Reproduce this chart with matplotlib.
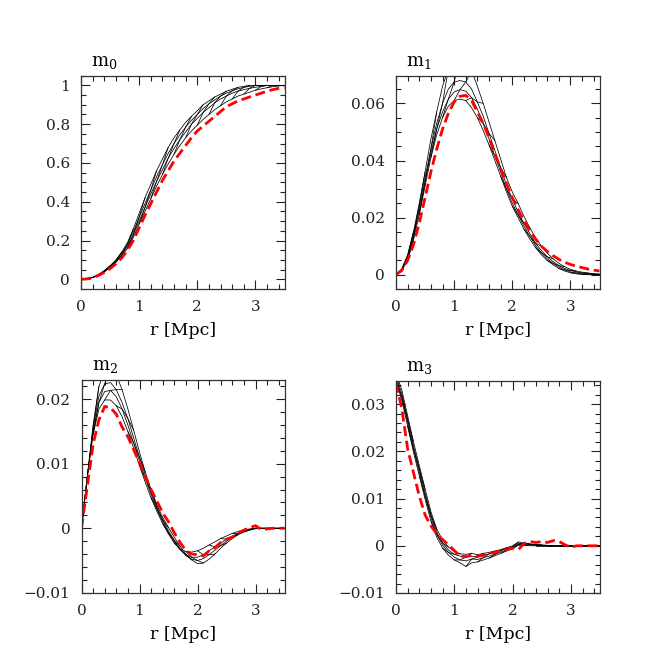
import numpy as np
import matplotlib
matplotlib.use("Agg")
import matplotlib.pyplot as plt
from matplotlib.ticker import MultipleLocator

plt.rcParams["font.family"] = "DejaVu Serif"
plt.rcParams["mathtext.fontset"] = "dejavuserif"

# radius grid [Mpc]
r = [0.0, 0.1, 0.2, 0.3, 0.4, 0.5, 0.6, 0.7, 0.8, 0.9,
     1.0, 1.1, 1.2, 1.3, 1.4, 1.5, 1.6, 1.7, 1.8, 1.9,
     2.0, 2.1, 2.2, 2.3, 2.4, 2.5, 2.6, 2.7, 2.8, 2.9,
     3.0, 3.1, 3.2, 3.3, 3.4, 3.5]

# m0 : model family (4 curves) and measured profile
m0_models = [
    [0, .002, .01, .025, .045, .07, .10, .14, .19, .26, .34, .42, .49, .56, .62, .68, .73, .77,
     .81, .84, .87, .9, .92, .94, .955, .97, .98, .99, .995, 1, 1, 1, 1, 1, 1, 1],
    [0, .002, .01, .024, .043, .067, .097, .135, .18, .245, .32, .39, .46, .53, .59, .65, .70, .745,
     .785, .82, .85, .88, .905, .925, .945, .96, .972, .982, .99, .995, 1, 1, 1, 1, 1, 1],
    [0, .002, .009, .022, .04, .063, .092, .127, .17, .23, .30, .37, .44, .505, .565, .625, .675, .72,
     .76, .80, .83, .86, .885, .91, .93, .945, .96, .97, .978, .985, .99, .995, 1, 1, 1, 1],
    [0, .002, .009, .021, .038, .06, .088, .12, .16, .215, .285, .35, .415, .48, .54, .595, .645, .69,
     .73, .765, .795, .825, .85, .875, .895, .915, .93, .945, .955, .965, .975, .982, .988, .993, .997, 1],
]
m0_data = [0, .002, .008, .02, .035, .055, .08, .11, .15, .2, .265, .33, .39, .45, .51, .56, .61, .65,
           .69, .73, .765, .79, .815, .84, .865, .89, .905, .92, .93, .94, .95, .96, .97, .978, .985, .99]

# m1
m1_models = [
    [0, .002, .007, .015, .025, .036, .0475, .057, .066, .072, .075, .076, .075, .0715, .066, .06,
     .0535, .047, .0405, .034, .029, .025, .0205, .0165, .013, .01, .0076, .0056, .004, .0028,
     .0019, .0013, .0009, .0006, .0004, .0002],
    [0, .002, .0065, .014, .024, .034, .044, .053, .060, .065, .0675, .068, .0675, .065, .0605, .0555,
     .0495, .0435, .0375, .0315, .0265, .022, .018, .0145, .011, .0085, .0063, .0046, .0032, .0022,
     .0015, .001, .0006, .0004, .0002, .0001],
    [0, .0018, .006, .013, .0225, .0325, .0425, .051, .057, .0615, .064, .0648, .0643, .062, .058, .053,
     .0475, .0415, .036, .030, .025, .021, .017, .0135, .0102, .0077, .0056, .004, .0027, .0017,
     .001, .0006, .0003, .0002, .0001, 0],
    [0, .0015, .005, .012, .021, .031, .041, .049, .055, .059, .061, .0615, .061, .0585, .055, .0505,
     .0455, .040, .0345, .029, .024, .020, .016, .0125, .0095, .007, .005, .0035, .0022, .0013,
     .0007, .0003, .0001, 0, 0, 0],
]
m1_data = [0, .0015, .005, .0105, .018, .027, .036, .044, .051, .0565, .0605, .0625, .0628, .061, .057,
           .053, .048, .0425, .037, .032, .027, .0228, .019, .0155, .0125, .01, .0082, .0067, .0054,
           .0044, .0036, .003, .0025, .002, .0016, .0013]

# m2
m2_models = [
    [0, .008, .016, .022, .0245, .025, .0238, .0215, .0185, .0152, .0118, .0087, .006, .0036, .0017,
     .0001, -.0014, -.0028, -.004, -.0049, -.0055, -.0054, -.0048, -.004, -.0031, -.0023, -.0016,
     -.001, -.0006, -.0003, -.0001, 0, 0, 0, 0, 0],
    [0, .008, .0155, .0205, .0224, .0226, .0215, .0195, .017, .014, .011, .0082, .0056, .0033, .0013,
     -.0004, -.0019, -.0032, -.0042, -.0048, -.005, -.0047, -.0041, -.0034, -.0027, -.002, -.0014,
     -.0009, -.0005, -.0002, 0, 0, 0, 0, 0, 0],
    [0, .008, .015, .0195, .0212, .0214, .0204, .0185, .016, .0132, .0104, .0077, .0052, .003, .001,
     -.0007, -.0021, -.0033, -.0041, -.0045, -.0045, -.0041, -.0035, -.0029, -.0023, -.0017, -.0012,
     -.0008, -.0004, -.0002, 0, 0, 0, 0, 0, 0],
    [0, .008, .0145, .0185, .0199, .0199, .019, .0173, .015, .0124, .0097, .0071, .0047, .0026, .0007,
     -.0009, -.0023, -.0032, -.0036, -.0037, -.0035, -.0031, -.0026, -.0021, -.0016, -.0012, -.0008,
     -.0005, -.0003, -.0001, 0, 0, 0, 0, 0, 0],
]
m2_data = [0, .0065, .013, .0168, .0189, .0187, .0177, .0157, .0142, .0122, .0101, .008, .006, .0042,
           .0024, .001, -.0007, -.0022, -.0035, -.004, -.0041, -.0043, -.0035, -.003, -.0022, -.0017,
           -.0014, -.0007, -.0003, .0001, .0004, -.0002, -.0001, 0, 0, 0]

# m3
m3_models = [
    [.0365, .033, .0275, .022, .017, .012, .0072, .0035, .0012, -.0003, -.0012, -.0017, -.0018, -.0016,
     -.0019, -.0016, -.0014, -.0011, -.0008, -.0004, 0, .0008, .0006, .0004, .0003, .0002, .0001,
     0, 0, 0, 0, 0, 0, 0, 0, 0],
    [.036, .0322, .0267, .0212, .0162, .0112, .0065, .0029, .0006, -.0009, -.0018, -.0022, -.0024,
     -.0022, -.0024, -.002, -.0017, -.0014, -.001, -.0006, -.0002, .0005, .0005, .0003, .0002, .0001,
     0, 0, 0, 0, 0, 0, 0, 0, 0, 0],
    [.0355, .0315, .026, .0205, .0155, .0105, .0059, .0024, .0001, -.0014, -.0024, -.003, -.0032,
     -.0028, -.0029, -.0025, -.0022, -.0018, -.0013, -.0009, -.0004, .0003, .0003, .0002, .0001,
     0, 0, 0, 0, 0, 0, 0, 0, 0, 0, 0],
    [.035, .0308, .0253, .0198, .0148, .0098, .0052, .0018, -.0005, -.002, -.003, -.0036, -.0044,
     -.0036, -.0034, -.003, -.0026, -.0021, -.0016, -.0011, -.0006, .0001, .0001, 0, 0, 0, 0, 0, 0,
     0, 0, 0, 0, 0, 0, 0],
]
m3_data = [.0345, .029, .0205, .0155, .0105, .0065, .0042, .0025, .0013, .0002, -.001, -.0022, -.0023,
           -.002, -.0022, -.002, -.0016, -.0014, -.001, -.0008, -.0005, -.0008, .0005, .0009, .0007,
           .0009, .0007, .0011, .0009, .0002, -.0003, 0, 0, 0, 0, 0]

panels = [
    ("m_0", m0_models, m0_data, (-0.05, 1.05), 0.2, 0.05, "%g"),
    ("m_1", m1_models, m1_data, (-0.005, 0.0697), 0.02, 0.005, "%g"),
    ("m_2", m2_models, m2_data, (-0.01, 0.023), 0.01, 0.002, "%g"),
    ("m_3", m3_models, m3_data, (-0.01, 0.035), 0.01, 0.002, "%g"),
]

# axes boxes in pixel units of the 654x654 canvas: left, top, right, bottom
boxes = [(81, 75.7, 284.5, 289), (396, 75.7, 599.5, 289),
         (81.5, 380, 284.5, 592.7), (396, 380.5, 600, 593)]

W = 654.0
fig = plt.figure(figsize=(6.54, 6.54), dpi=100)

for (name, models, data, ylim, major, minor, fmt), (l, t, rr, b) in zip(panels, boxes):
    ax = fig.add_axes([l / W, 1 - b / W, (rr - l) / W, (b - t) / W])

    for m in models:
        ax.plot(r, m, color="black", lw=0.55)
    # cross lines through the model family
    n = len(r)
    for j in range(0, n - 3, 2):
        xs = [r[j], r[j + 1], r[j + 2], r[j + 3]]
        ys = [models[3][j], models[2][j + 1], models[1][j + 2], models[0][j + 3]]
        ax.plot(xs, ys, color="black", lw=0.55)

    ax.plot(r, data, color="#ff0000", lw=2.0, dashes=(3.6, 1.7))

    ax.set_xlim(0, 3.5)
    ax.set_ylim(*ylim)
    ax.xaxis.set_major_locator(MultipleLocator(1))
    ax.xaxis.set_minor_locator(MultipleLocator(0.2))
    ax.yaxis.set_major_locator(MultipleLocator(major))
    ax.yaxis.set_minor_locator(MultipleLocator(minor))
    ax.yaxis.set_major_formatter(plt.FuncFormatter(lambda v, p: ("%g" % round(v, 4)).replace("-", "\u2212")))
    ax.tick_params(which="both", direction="in", top=True, right=True, width=0.8,
                   labelsize=11, colors="#222222")
    ax.tick_params(which="major", length=6.5, pad=8)
    ax.tick_params(which="minor", length=3.6)
    for s in ax.spines.values():
        s.set_linewidth(0.9)
        s.set_color("#333333")
    ax.set_xlabel("r [Mpc]", fontsize=12.5, labelpad=6)
    ax.text(0.05, 1.045, r"$\mathrm{%s}$" % name, transform=ax.transAxes,
            fontsize=13, va="baseline", ha="left")

fig.savefig("out.png", dpi=100)
